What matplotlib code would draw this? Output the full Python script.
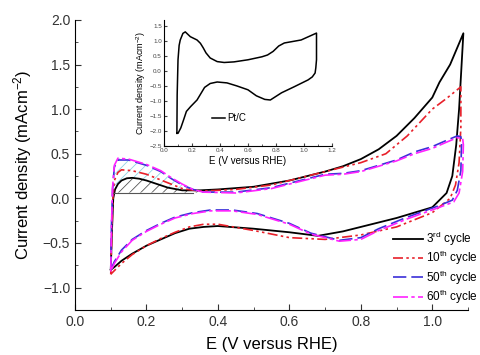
import numpy as np
import matplotlib
matplotlib.use('Agg')
import matplotlib.pyplot as plt
from matplotlib.ticker import MultipleLocator

plt.rcParams['font.family'] = ['Liberation Sans', 'DejaVu Sans']
plt.rcParams['mathtext.default'] = 'regular'
plt.rcParams['hatch.linewidth'] = 0.6

# 3rd cycle (anodic sweep then cathodic sweep)
x3 = [0.1, 0.103, 0.107, 0.112, 0.12, 0.13, 0.145, 0.16, 0.18, 0.2, 0.23, 0.26, 0.3, 0.35, 0.4, 0.5, 0.6,
      0.7, 0.75, 0.8, 0.85, 0.9, 0.95, 1.0, 1.02, 1.05, 1.087,
      1.075, 1.067, 1.056, 1.04, 1.0, 0.9, 0.8, 0.75, 0.68, 0.6, 0.5, 0.4, 0.36, 0.32, 0.28, 0.24,
      0.2, 0.16, 0.13, 0.11, 0.1]
y3 = [-0.8, -0.4, 0.0, 0.1, 0.16, 0.2, 0.225, 0.23, 0.22, 0.2, 0.16, 0.12, 0.09, 0.09, 0.1, 0.13, 0.2,
      0.3, 0.36, 0.44, 0.55, 0.7, 0.9, 1.13, 1.3, 1.5, 1.85,
      1.0, 0.6, 0.25, 0.06, -0.1, -0.22, -0.32, -0.37, -0.42, -0.38, -0.34, -0.31, -0.32, -0.34, -0.39, -0.46,
      -0.53, -0.62, -0.7, -0.77, -0.8]

# 10th cycle
x10 = [0.1, 0.103, 0.106, 0.11, 0.12, 0.13, 0.16, 0.2, 0.25, 0.3, 0.35, 0.45, 0.55, 0.65, 0.7, 0.8,
       0.87, 0.93, 1.0, 1.04, 1.08,
       1.08, 1.075, 1.065, 1.05, 1.0, 0.9, 0.8, 0.7, 0.6, 0.5, 0.4, 0.36, 0.32, 0.28, 0.24,
       0.2, 0.16, 0.13, 0.11, 0.1]
y10 = [-0.85, -0.4, 0.0, 0.2, 0.29, 0.32, 0.31, 0.27, 0.19, 0.11, 0.08, 0.1, 0.15, 0.25, 0.3, 0.4,
       0.5, 0.7, 1.0, 1.12, 1.25,
       0.8, 0.4, 0.15, 0.0, -0.16, -0.32, -0.41, -0.46, -0.44, -0.36, -0.29, -0.29, -0.32, -0.38, -0.45,
       -0.53, -0.63, -0.73, -0.81, -0.85]

# 50th cycle
x50 = [0.1, 0.102, 0.105, 0.11, 0.12, 0.15, 0.2, 0.24, 0.27, 0.3, 0.33, 0.36, 0.45, 0.55, 0.6, 0.65,
       0.7, 0.75, 0.8, 0.9, 0.95, 1.0, 1.04, 1.07, 1.08,
       1.082, 1.08, 1.07, 1.056, 1.02, 0.93, 0.85, 0.8, 0.74, 0.66, 0.6, 0.51, 0.44, 0.38, 0.33, 0.28,
       0.24, 0.2, 0.16, 0.13, 0.11, 0.1]
y50 = [-0.8, -0.3, 0.1, 0.35, 0.43, 0.43, 0.37, 0.3, 0.22, 0.15, 0.1, 0.07, 0.07, 0.12, 0.17, 0.22,
       0.27, 0.28, 0.31, 0.43, 0.52, 0.58, 0.65, 0.7, 0.69,
       0.62, 0.31, 0.09, -0.02, -0.08, -0.21, -0.34, -0.44, -0.47, -0.39, -0.28, -0.17, -0.13, -0.13, -0.16, -0.21,
       -0.28, -0.36, -0.46, -0.58, -0.71, -0.8]

# 60th cycle
x60 = [0.1, 0.102, 0.105, 0.11, 0.12, 0.15, 0.2, 0.24, 0.27, 0.3, 0.33, 0.36, 0.45, 0.55, 0.6, 0.65,
       0.7, 0.75, 0.8, 0.9, 0.95, 1.0, 1.04, 1.07, 1.085,
       1.087, 1.085, 1.075, 1.06, 1.02, 0.93, 0.85, 0.8, 0.74, 0.66, 0.6, 0.51, 0.44, 0.38, 0.33, 0.28,
       0.24, 0.2, 0.16, 0.13, 0.11, 0.1]
y60 = [-0.82, -0.3, 0.12, 0.37, 0.45, 0.44, 0.38, 0.31, 0.23, 0.16, 0.1, 0.07, 0.06, 0.11, 0.16, 0.21,
       0.26, 0.27, 0.3, 0.42, 0.5, 0.56, 0.63, 0.68, 0.67,
       0.6, 0.3, 0.06, -0.04, -0.1, -0.23, -0.36, -0.46, -0.48, -0.4, -0.29, -0.18, -0.14, -0.14, -0.17, -0.22,
       -0.29, -0.37, -0.47, -0.6, -0.73, -0.82]

# Pt/C inset curve
xpt = [0.092, 0.094, 0.1, 0.108, 0.116, 0.135, 0.152, 0.17, 0.188, 0.236, 0.26, 0.28, 0.3, 0.33, 0.38, 0.43,
       0.5, 0.6, 0.7, 0.74, 0.78, 0.82, 0.86, 0.92, 0.98, 1.09,
       1.09, 1.085, 1.08, 1.06, 1.03, 0.93, 0.84, 0.79, 0.76, 0.72, 0.66, 0.6, 0.52, 0.45, 0.38, 0.33, 0.29,
       0.236, 0.19, 0.16, 0.14, 0.12, 0.1, 0.092]
ypt = [-2.08, -0.8, 0.37, 0.85, 1.03, 1.25, 1.3, 1.22, 1.14, 1.03, 0.92, 0.77, 0.6, 0.43, 0.31, 0.28,
       0.3, 0.37, 0.47, 0.53, 0.65, 0.83, 0.93, 0.98, 1.03, 1.26,
       0.37, 0.1, -0.07, -0.2, -0.3, -0.53, -0.73, -0.88, -0.97, -0.95, -0.83, -0.63, -0.5, -0.4, -0.37, -0.42, -0.55,
       -0.97, -1.19, -1.35, -1.63, -1.9, -2.08, -2.08]

base = 0.065

fig = plt.figure(figsize=(4.81, 3.55), dpi=100)
ax = fig.add_axes([0.156, 0.127, 0.817, 0.817])

ax.plot(x3, y3, color='black', lw=1.3, label='3$^{rd}$ cycle')
ax.plot(x10, y10, color='#e8202a', lw=1.2, ls=(0, (6, 2, 1.5, 2, 1.5, 2)), label='10$^{th}$ cycle')
ax.plot(x50, y50, color='#3b2fd8', lw=1.2, ls=(0, (8, 3)), label='50$^{th}$ cycle')
ax.plot(x60, y60, color='#ff22ff', lw=1.2, ls=(0, (9, 2, 2, 2)), label='60$^{th}$ cycle')

# hatched areas above baseline
xa3 = np.array(x3[2:14])
ya3 = np.array(y3[2:14])
ax.fill_between(xa3, base, np.maximum(ya3, base), facecolor='none', edgecolor='#555555',
                hatch='///', lw=0)
xa60 = np.array(x60[2:12])
ya60 = np.array(y60[2:12])
ax.fill_between(xa60, np.interp(xa60, xa3, ya3).clip(min=base), np.maximum(ya60, base),
                facecolor='none', edgecolor='#8fd4e4', hatch='///', lw=0)
ax.plot([0.107, 0.33], [base, base], color='#555555', lw=0.8)

ax.set_xlim(0, 1.1)
ax.set_ylim(-1.25, 2.0)
ax.xaxis.set_major_locator(MultipleLocator(0.2))
ax.xaxis.set_minor_locator(MultipleLocator(0.1))
ax.yaxis.set_major_locator(MultipleLocator(0.5))
ax.yaxis.set_minor_locator(MultipleLocator(0.25))
ax.tick_params(which='both', direction='in', labelsize=10, colors='#333333')
ax.tick_params(which='major', length=4)
ax.tick_params(which='minor', length=2.5)
ax.spines['top'].set_visible(False)
ax.spines['right'].set_visible(False)
ax.set_xlabel('E (V versus RHE)', fontsize=12, labelpad=6)
ax.set_ylabel('Current density (mAcm$^{-2}$)', fontsize=12, labelpad=6)

ax.legend(loc='upper left', bbox_to_anchor=(0.81, 0.277), frameon=False, fontsize=8.5,
          handlelength=2.5, handletextpad=0.3, labelspacing=0.1, borderaxespad=0,
          borderpad=0)

# inset
ins = fig.add_axes([0.341, 0.589, 0.349, 0.355])
ins.plot(xpt, ypt, color='black', lw=1.1, label='Pt/C')
ins.set_xlim(0, 1.2)
ins.set_ylim(-2.5, 1.7)
ins.xaxis.set_major_locator(MultipleLocator(0.2))
ins.xaxis.set_minor_locator(MultipleLocator(0.1))
ins.yaxis.set_major_locator(MultipleLocator(0.5))
ins.tick_params(which='both', direction='in', labelsize=4.5, colors='#444444', pad=1.5)
ins.tick_params(which='major', length=2.5)
ins.tick_params(which='minor', length=1.5)
ins.spines['top'].set_visible(False)
ins.spines['right'].set_visible(False)
ins.patch.set_alpha(0)
ins.set_xlabel('E (V versus RHE)', fontsize=7, labelpad=2)
ins.set_ylabel('Current density (mAcm$^{-2}$)', fontsize=6.5, labelpad=1)
ins.legend(loc='upper left', bbox_to_anchor=(0.26, 0.29), frameon=False, fontsize=7,
           handlelength=1.4, handletextpad=0.2, borderaxespad=0)

fig.savefig('out.png', dpi=100)
